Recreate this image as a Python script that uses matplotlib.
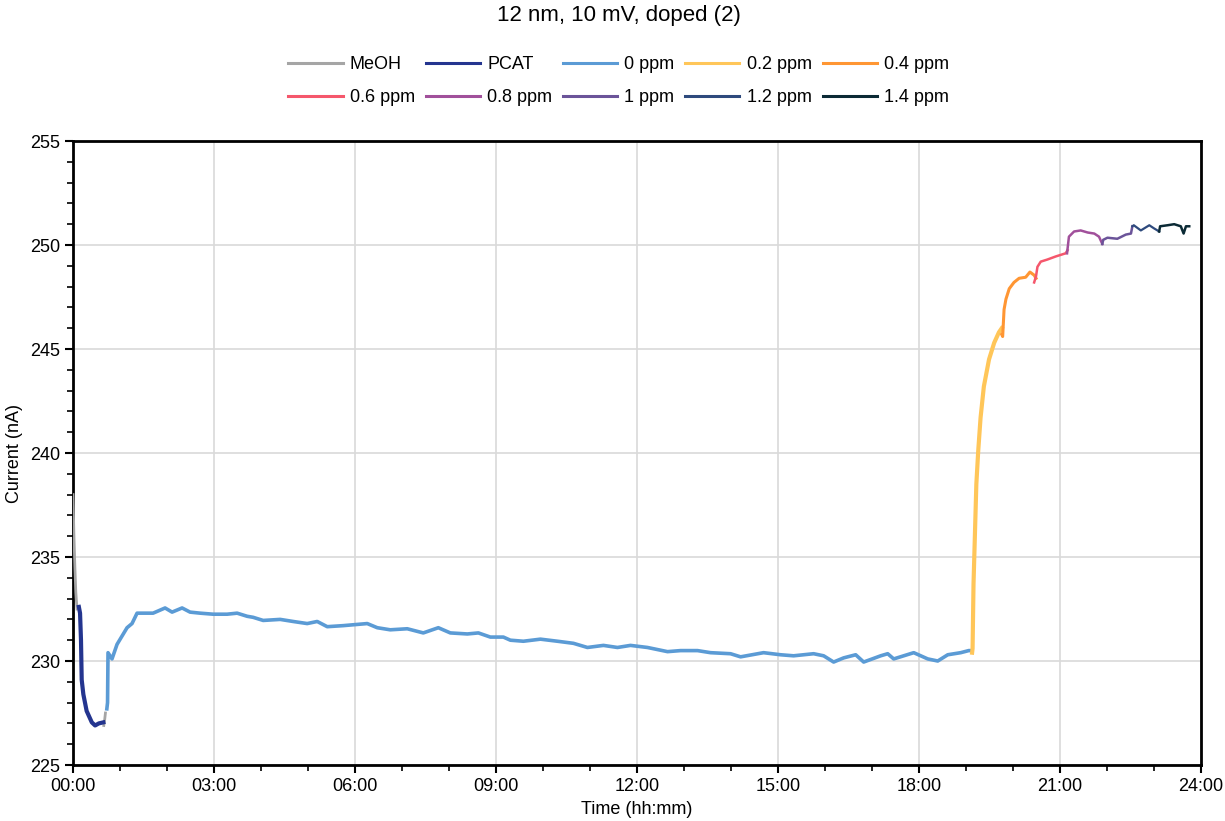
import matplotlib
matplotlib.use("Agg")
import matplotlib.pyplot as plt
import numpy as np
from matplotlib.ticker import MultipleLocator, FuncFormatter

# time in hours, current in nA
meoh_t = [0.0, 0.02, 0.04, 0.06, 0.085, np.nan, 0.655, 0.675, 0.69]
meoh_i = [238.0, 236.0, 234.5, 233.3, 232.5, np.nan, 226.9, 227.2, 227.5]

pcat_t = [0.125, 0.15, 0.17, 0.185, 0.22, 0.29, 0.4, 0.47, 0.55, 0.645]
pcat_i = [232.6, 232.3, 231.0, 229.1, 228.4, 227.6, 227.05, 226.9, 227.0, 227.05]

ppm0_t = [0.72, 0.735, 0.745, 0.83, 0.937, 1.15, 1.256, 1.363, 1.576, 1.704,
          1.959, 2.108, 2.321, 2.491, 2.704, 2.981, 3.279, 3.492, 3.705, 3.833,
          4.046, 4.408, 4.685, 4.983, 5.196, 5.409, 5.75, 6.26, 6.474, 6.75,
          7.112, 7.453, 7.773, 8.028, 8.39, 8.625, 8.88, 9.157, 9.306, 9.583,
          9.945, 10.307, 10.648, 10.945, 11.286, 11.584, 11.861, 12.223, 12.649, 12.926,
          13.288, 13.565, 13.99, 14.204, 14.693, 15.055, 15.332, 15.758, 15.971, 16.184,
          16.397, 16.653, 16.823, 17.185, 17.334, 17.462, 17.888, 18.186, 18.399, 18.612,
          18.888, 19.058, 19.13]
ppm0_i = [227.7, 228.0, 230.4, 230.1, 230.8, 231.6, 231.8, 232.3, 232.3, 232.3,
          232.55, 232.35, 232.55, 232.35, 232.3, 232.25, 232.25, 232.3, 232.15, 232.1,
          231.95, 232.0, 231.9, 231.8, 231.9, 231.65, 231.7, 231.8, 231.6, 231.5,
          231.55, 231.35, 231.6, 231.35, 231.3, 231.35, 231.15, 231.15, 231.0, 230.95,
          231.05, 230.95, 230.85, 230.65, 230.75, 230.65, 230.75, 230.65, 230.45, 230.5,
          230.5, 230.4, 230.35, 230.2, 230.4, 230.3, 230.25, 230.35, 230.25, 229.95,
          230.15, 230.3, 229.95, 230.25, 230.35, 230.1, 230.4, 230.1, 230.0, 230.3,
          230.4, 230.5, 230.5]

ppm02_t = [19.13, 19.14, 19.16, 19.19, 19.22, 19.26, 19.31, 19.38, 19.49, 19.6, 19.7, 19.76]
ppm02_i = [230.4, 230.6, 233.7, 236.1, 238.5, 240.1, 241.7, 243.2, 244.5, 245.3, 245.8, 246.0]

ppm04_t = [19.76, 19.78, 19.81, 19.85, 19.92, 20.02, 20.13, 20.27, 20.36, 20.45, 20.49]
ppm04_i = [245.7, 245.6, 246.9, 247.4, 247.9, 248.2, 248.4, 248.45, 248.7, 248.55, 248.4]

ppm06_t = [20.45, 20.49, 20.52, 20.59, 20.73, 20.91, 21.12, 21.16]
ppm06_i = [248.2, 248.5, 248.95, 249.2, 249.3, 249.45, 249.6, 249.75]

ppm08_t = [21.15, 21.19, 21.3, 21.44, 21.59, 21.73, 21.83, 21.9]
ppm08_i = [249.6, 250.4, 250.65, 250.7, 250.6, 250.55, 250.4, 250.05]

ppm1_t = [21.9, 21.92, 22.01, 22.22, 22.4, 22.51, 22.54]
ppm1_i = [250.05, 250.25, 250.35, 250.3, 250.5, 250.55, 250.9]

ppm12_t = [22.54, 22.57, 22.72, 22.9, 23.0, 23.11]
ppm12_i = [250.9, 250.95, 250.7, 250.95, 250.8, 250.65]

ppm14_t = [23.11, 23.13, 23.29, 23.43, 23.57, 23.63, 23.68, 23.75]
ppm14_i = [250.65, 250.9, 250.95, 251.0, 250.9, 250.55, 250.9, 250.9]

series = [
    ("MeOH", meoh_t, meoh_i, "#a5a5a5", 2.0),
    ("PCAT", pcat_t, pcat_i, "#24358f", 3.0),
    ("0 ppm", ppm0_t, ppm0_i, "#5b9bd5", 2.6),
    ("0.2 ppm", ppm02_t, ppm02_i, "#ffc659", 3.0),
    ("0.4 ppm", ppm04_t, ppm04_i, "#ff9633", 2.2),
    ("0.6 ppm", ppm06_t, ppm06_i, "#f5576c", 1.8),
    ("0.8 ppm", ppm08_t, ppm08_i, "#a1509b", 1.8),
    ("1 ppm", ppm1_t, ppm1_i, "#6b5499", 1.8),
    ("1.2 ppm", ppm12_t, ppm12_i, "#2e4a7d", 1.6),
    ("1.4 ppm", ppm14_t, ppm14_i, "#0b2a35", 1.8),
]

plt.rcParams['font.family'] = ['Liberation Sans', 'DejaVu Sans']

fig = plt.figure(figsize=(12.25, 8.21), dpi=100)
ax = fig.add_axes([73 / 1225, 56 / 821, (1201 - 73) / 1225, (765 - 141) / 821])

handles = {}
for name, t, v, col, lw in series:
    ln, = ax.plot(t, v, color=col, lw=lw, solid_joinstyle='round', zorder=3)
    handles[name] = ln

ax.set_xlim(0, 24)
ax.set_ylim(225, 255)
ax.xaxis.set_major_locator(MultipleLocator(3))
ax.xaxis.set_minor_locator(MultipleLocator(1))
ax.yaxis.set_major_locator(MultipleLocator(5))
ax.yaxis.set_minor_locator(MultipleLocator(1))
ax.xaxis.set_major_formatter(FuncFormatter(lambda x, p: "%02d:%02d" % (int(x), int(round((x % 1) * 60)))))
ax.grid(True, which='major', color='#d9d9d9', lw=1.2, zorder=0)
ax.set_axisbelow(True)
for s in ax.spines.values():
    s.set_linewidth(2)
    s.set_color('black')
ax.tick_params(which='major', direction='out', length=6, width=1.5, labelsize=13, pad=3)
ax.tick_params(which='minor', direction='out', length=4, width=1.2)

ax.set_xlabel("Time (hh:mm)", fontsize=13, labelpad=5)
ax.set_ylabel("Current (nA)", fontsize=13, labelpad=5)

fig.text(0.505, 0.981, "12 nm, 10 mV, doped (2)", ha='center', va='center', fontsize=16)

order = ["MeOH", "0.6 ppm", "PCAT", "0.8 ppm", "0 ppm", "1 ppm", "0.2 ppm", "1.2 ppm", "0.4 ppm", "1.4 ppm"]
leg = fig.legend([handles[k] for k in order], order, loc='center', bbox_to_anchor=(0.505, 0.901),
                 ncol=5, frameon=False, fontsize=13, handlelength=3.0, handletextpad=0.4,
                 columnspacing=0.6, labelspacing=0.9)
for l in leg.get_lines():
    l.set_linewidth(2.2)

fig.savefig("out.png", dpi=100)
